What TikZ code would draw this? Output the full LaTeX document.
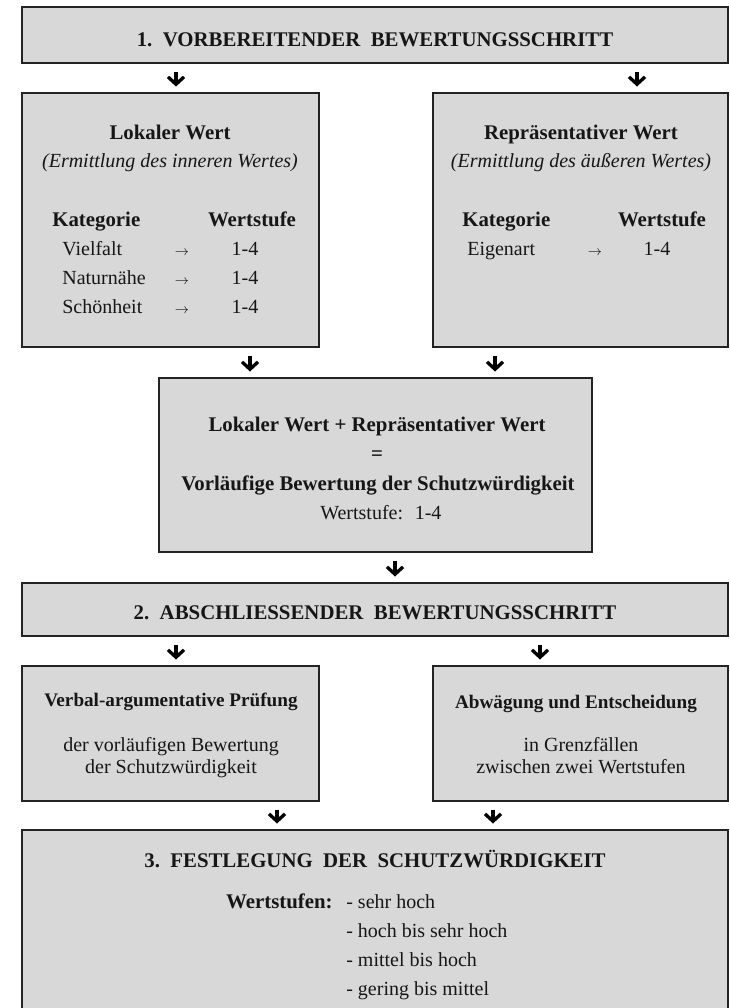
\documentclass[tikz,border=0pt]{standalone}
\usepackage{fontspec}
\setmainfont{Liberation Serif}
\usepackage{tikz}
\usetikzlibrary{arrows.meta, positioning}
\definecolor{kastengrau}{RGB}{216, 216, 216}
\definecolor{rahmen}{RGB}{35, 35, 35}
\definecolor{schrift}{RGB}{22, 22, 22}

\begin{document}
\begin{tikzpicture}[x=0.6pt, y=-0.6pt,
  kasten/.style={draw=rahmen, line width=1pt, fill=kastengrau, inner sep=0pt},
  txt/.style={text=schrift, inner sep=0pt, text height=8.5pt, text depth=2.5pt,
    font=\fontsize{12}{14}\selectfont},
  fett/.style={txt, font=\fontsize{12.5}{14}\selectfont\bfseries},
  fettklein/.style={txt, font=\fontsize{11.5}{14}\selectfont\bfseries},
  kursiv/.style={txt, font=\fontsize{12}{14}\selectfont\itshape},
  pfeil/.style={line width=2pt, -{Straight Barb[length=4.4pt, width=9.6pt]},
    shorten <=4.6pt, shorten >=3.4pt}]
  \path[use as bounding box, clip] (0,0) rectangle (730,1008);

  % Kaesten
  \node[kasten, minimum width=423.6pt, minimum height=33.6pt] (schritt1) at (375,35) {};
  \node[kasten, minimum width=178.2pt, minimum height=152.4pt] (lokal) at (170.5,220) {};
  \node[kasten, minimum width=177pt, minimum height=152.4pt] (repr) at (580.5,220) {};
  \node[kasten, minimum width=259.8pt, minimum height=104.4pt] (vorl) at (375.5,465) {};
  \node[kasten, minimum width=423.6pt, minimum height=31.8pt] (schritt2) at (375,609.5) {};
  \node[kasten, minimum width=178.2pt, minimum height=81pt] (pruef) at (170.5,733.5) {};
  \node[kasten, minimum width=177pt, minimum height=81pt] (abw) at (580.5,733.5) {};
  \node[kasten, minimum width=423.6pt, minimum height=126pt] (fest) at (375,935) {};

  % Texte
  \node[fett] (t1) at (375,41) {1.\ \ VORBEREITENDER\ \ BEWERTUNGSSCHRITT};

  \node[fett] (lw) at (170,134) {Lokaler Wert};
  \node[kursiv] (lwe) at (170,162) {(Ermittlung des inneren Wertes)};
  \node[fett, anchor=west] (lkat) at (52,221) {Kategorie};
  \node[fett] (lws) at (252,221) {Wertstufe};
  \foreach \k/\y in {Vielfalt/250, Naturnähe/279, Schönheit/308} {
    \node[txt, anchor=west] at (62,\y) {\k};
    \node[txt] at (182,\y) {\fontsize{8}{9}\selectfont$\rightarrow$};
    \node[txt] at (245,\y) {1-4};
  }

  \node[fett] (rw) at (581,134) {Repräsentativer Wert};
  \node[kursiv] (rwe) at (581,162) {(Ermittlung des äußeren Wertes)};
  \node[fett, anchor=west] (rkat) at (462,221) {Kategorie};
  \node[fett] (rws) at (662,221) {Wertstufe};
  \node[txt, anchor=west] (eig) at (467,250) {Eigenart};
  \node[txt] (eigp) at (595,250) {\fontsize{8}{9}\selectfont$\rightarrow$};
  \node[txt] (eigw) at (657,250) {1-4};

  \node[fett] (summe) at (377,426) {Lokaler Wert + Repräsentativer Wert};
  \node[fett] (gleich) at (377,455) {=};
  \node[fett] (vbs) at (378,485) {Vorläufige Bewertung der Schutzwürdigkeit};
  \node[txt, anchor=west] (vws) at (320,514) {Wertstufe:\hspace{7pt}1-4};

  \node[fett] (t2) at (375,614) {2.\ \ ABSCHLIESSENDER\ \ BEWERTUNGSSCHRITT};

  \node[fettklein] (pt) at (171,701) {Verbal-argumentative Prüfung};
  \node[txt] (p1) at (171,746) {der vorläufigen Bewertung};
  \node[txt] (p2) at (171,768) {der Schutzwürdigkeit};

  \node[fettklein] (at) at (576,703) {Abwägung und Entscheidung};
  \node[txt] (a1) at (581,746) {in Grenzfällen};
  \node[txt] (a2) at (581,768) {zwischen zwei Wertstufen};

  \node[fett] (t3) at (375,862) {3.\ \ FESTLEGUNG\ \ DER\ \ SCHUTZWÜRDIGKEIT};
  \node[fett, anchor=east] (wsn) at (333,903) {Wertstufen:};
  \foreach \s/\y in {sehr hoch/903, hoch bis sehr hoch/932, mittel bis hoch/961, gering bis mittel/990}
    \node[txt, anchor=west] at (346,\y) {- \s};

  % Pfeile
  \foreach \x/\von/\nach in {176/schritt1/lokal, 637/schritt1/repr, 250/lokal/vorl,
      495/repr/vorl, 395/vorl/schritt2, 176/schritt2/pruef, 540/schritt2/abw,
      277/pruef/fest, 493/abw/fest} {
    \coordinate (h) at (\x,0);
    \draw[pfeil] (\von.south -| h) -- (\nach.north -| h);
  }
\end{tikzpicture}
\end{document}
